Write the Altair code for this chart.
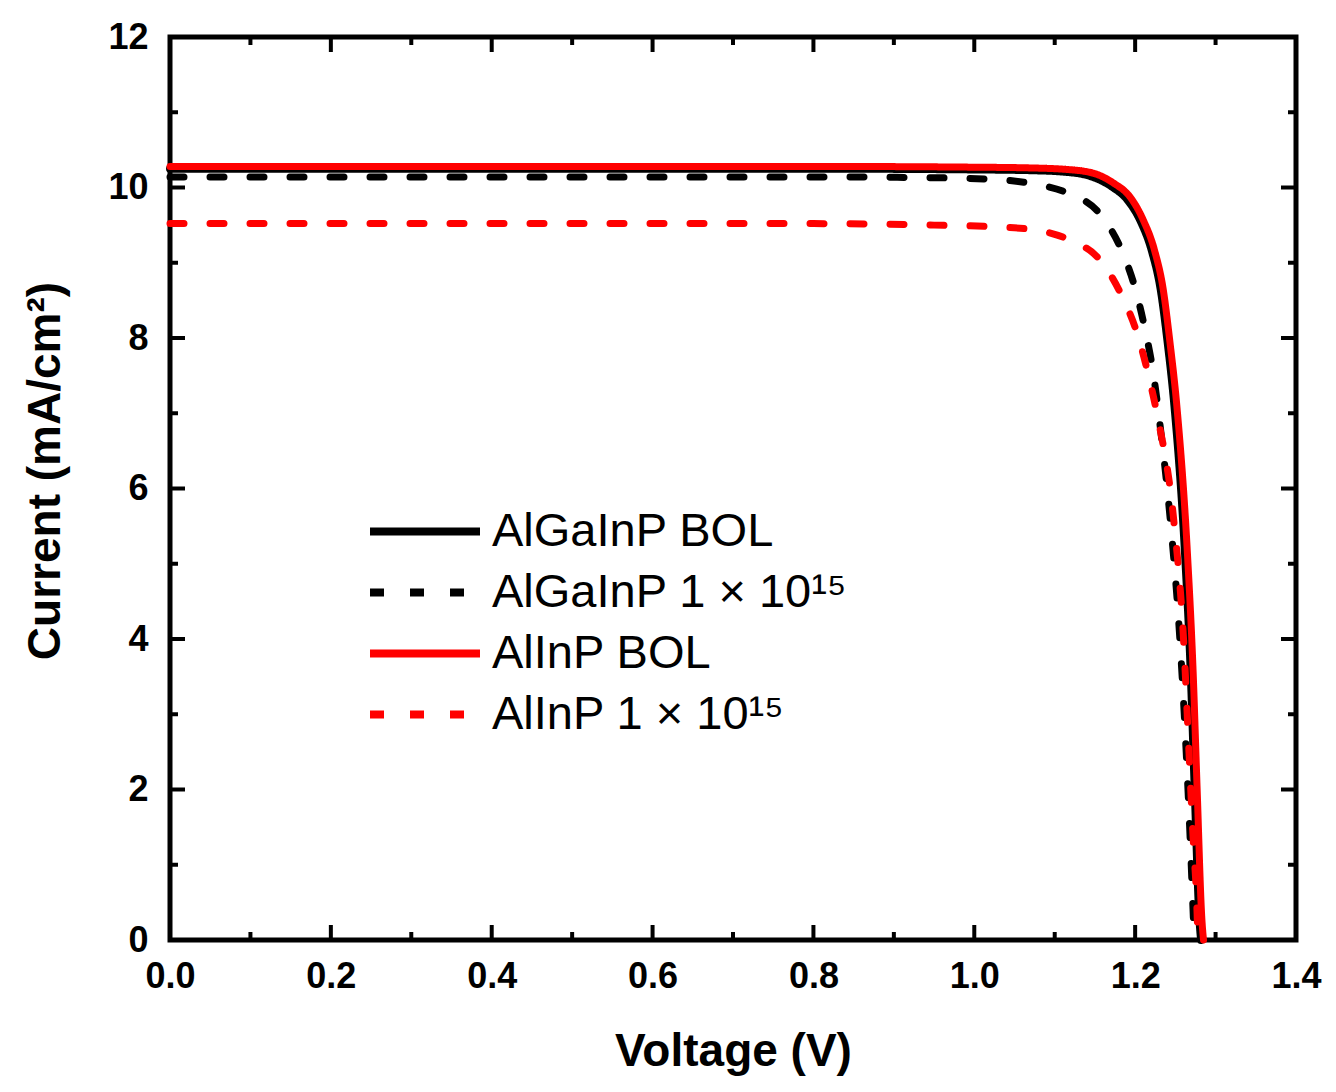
import altair as alt
import pandas as pd

# ---- data ----
SERIES = ["AlGaInP BOL", "AlGaInP 1 × 10¹⁵", "AlInP BOL", "AlInP 1 × 10¹⁵"]
COLORS = ["#000000", "#000000", "#ff0000", "#ff0000"]
DASHES = [[1, 0], [14, 26], [1, 0], [14, 26]]
WIDTHS = [8, 7, 7, 7]

V_AGIP_BOL = [0, 0.4, 0.8, 1.0, 1.07, 1.112, 1.145, 1.170, 1.191, 1.207, 1.221, 1.232, 1.240, 1.249, 1.262, 1.269, 1.274, 1.280, 1.282]
I_AGIP_BOL = [10.25, 10.25, 10.25, 10.24, 10.23, 10.21, 10.15, 10.02, 9.83, 9.55, 9.15, 8.63, 7.98, 7.08, 5.14, 3.59, 2.03, 0.27, 0.0]

V_AGIP_RAD = [0, 0.4, 0.8, 0.95, 1.02, 1.073, 1.115, 1.156, 1.183, 1.200, 1.212, 1.222, 1.232, 1.244, 1.255, 1.263, 1.268, 1.272, 1.2735]
I_AGIP_RAD = [10.14, 10.14, 10.14, 10.13, 10.11, 10.05, 9.93, 9.65, 9.17, 8.66, 8.13, 7.57, 6.75, 5.55, 4.10, 2.60, 1.45, 0.40, 0.0]

V_ALINP_BOL = [0, 0.4, 0.8, 1.0, 1.07, 1.115, 1.148, 1.173, 1.194, 1.210, 1.224, 1.235, 1.243, 1.252, 1.265, 1.272, 1.277, 1.283, 1.285]
I_ALINP_BOL = [10.28, 10.28, 10.28, 10.27, 10.26, 10.24, 10.19, 10.06, 9.87, 9.57, 9.17, 8.64, 7.97, 7.08, 5.14, 3.59, 2.03, 0.27, 0.0]

V_ALINP_RAD = [0, 0.4, 0.8, 0.95, 1.02, 1.073, 1.119, 1.156, 1.183, 1.204, 1.216, 1.227, 1.248, 1.260, 1.267, 1.272, 1.277, 1.278]
I_ALINP_RAD = [9.52, 9.52, 9.52, 9.50, 9.48, 9.44, 9.30, 9.04, 8.57, 8.01, 7.53, 7.00, 5.58, 4.03, 2.48, 1.37, 0.36, 0.0]

X_MAJOR = [0.0, 0.2, 0.4, 0.6, 0.8, 1.0, 1.2, 1.4]
X_MINOR = [0.1, 0.3, 0.5, 0.7, 0.9, 1.1, 1.3]
Y_MAJOR = [0, 2, 4, 6, 8, 10, 12]
Y_MINOR = [1, 3, 5, 7, 9, 11]

W, H = 1126, 903
FONT = "Liberation Sans"

rows = []
for name, vs, cs in zip(SERIES,
                        [V_AGIP_BOL, V_AGIP_RAD, V_ALINP_BOL, V_ALINP_RAD],
                        [I_AGIP_BOL, I_AGIP_RAD, I_ALINP_BOL, I_ALINP_RAD]):
    for v, c in zip(vs, cs):
        rows.append({"series": name, "V": v, "I": c})
df = pd.DataFrame(rows)

xs = alt.Scale(domain=[0, 1.4], nice=False, zero=False)
ys = alt.Scale(domain=[0, 12], nice=False, zero=False)

xaxis = alt.Axis(values=X_MAJOR, format=".1f", grid=False, domain=False, ticks=False,
                 labelFont=FONT, labelFontSize=36, labelFontWeight="bold", labelColor="black",
                 labelPadding=19, labelFlush=False,
                 titleFont=FONT, titleFontSize=46, titleFontWeight="bold", titleColor="black",
                 titlePadding=35)
yaxis = alt.Axis(values=Y_MAJOR, format="d", grid=False, domain=False, ticks=False,
                 labelFont=FONT, labelFontSize=36, labelFontWeight="bold", labelColor="black",
                 labelPadding=22, labelFlush=False,
                 titleFont=FONT, titleFontSize=46, titleFontWeight="bold", titleColor="black",
                 titlePadding=38, titleY=H / 2 - 18)

xenc = alt.X("V:Q", scale=xs, axis=xaxis, title="Voltage (V)")
yenc = alt.Y("I:Q", scale=ys, axis=yaxis, title="Current (mA/cm²)")

leg = alt.Legend(orient="none", legendX=196, legendY=471, symbolType="stroke",
                 symbolSize=12100, symbolStrokeWidth=8, labelFont=FONT, labelFontSize=47,
                 labelColor="black", labelOffset=8, labelLimit=1000, rowPadding=13,
                 clipHeight=47, padding=0)

color = alt.Color("series:N", scale=alt.Scale(domain=SERIES, range=COLORS), legend=leg, title=None)
dash = alt.StrokeDash("series:N", scale=alt.Scale(domain=SERIES, range=DASHES), legend=leg, title=None)

line_layers = []
for name, w in zip(SERIES, WIDTHS):
    line_layers.append(
        alt.Chart(df).transform_filter(alt.datum.series == name)
        .mark_line(interpolate="monotone", strokeWidth=w, strokeCap="round")
        .encode(x=xenc, y=yenc, color=color, strokeDash=dash, order=alt.Order("V:Q"))
    )

def xticks(vals, length):
    d = pd.DataFrame({"V": vals})
    b = alt.Chart(d).mark_rule(color="black", strokeWidth=4).encode(
        x=xenc, y=alt.value(H), y2=alt.value(H - length))
    t = alt.Chart(d).mark_rule(color="black", strokeWidth=4).encode(
        x=xenc, y=alt.value(0), y2=alt.value(length))
    return [b, t]

def yticks(vals, length):
    d = pd.DataFrame({"I": vals})
    l = alt.Chart(d).mark_rule(color="black", strokeWidth=4).encode(
        y=yenc, x=alt.value(0), x2=alt.value(length))
    r = alt.Chart(d).mark_rule(color="black", strokeWidth=4).encode(
        y=yenc, x=alt.value(W), x2=alt.value(W - length))
    return [l, r]

tick_layers = xticks(X_MAJOR, 15) + xticks(X_MINOR, 8) + yticks(Y_MAJOR, 15) + yticks(Y_MINOR, 8)

chart = alt.layer(*tick_layers, *line_layers).properties(
    width=W, height=H,
    background="white",
    autosize=alt.AutoSizeParams(type="none"),
    padding={"left": 162, "top": 29, "right": 32, "bottom": 140},
).configure_view(stroke="black", strokeWidth=5)

chart.save("out.html", embed_options={"renderer": "svg", "actions": False})
